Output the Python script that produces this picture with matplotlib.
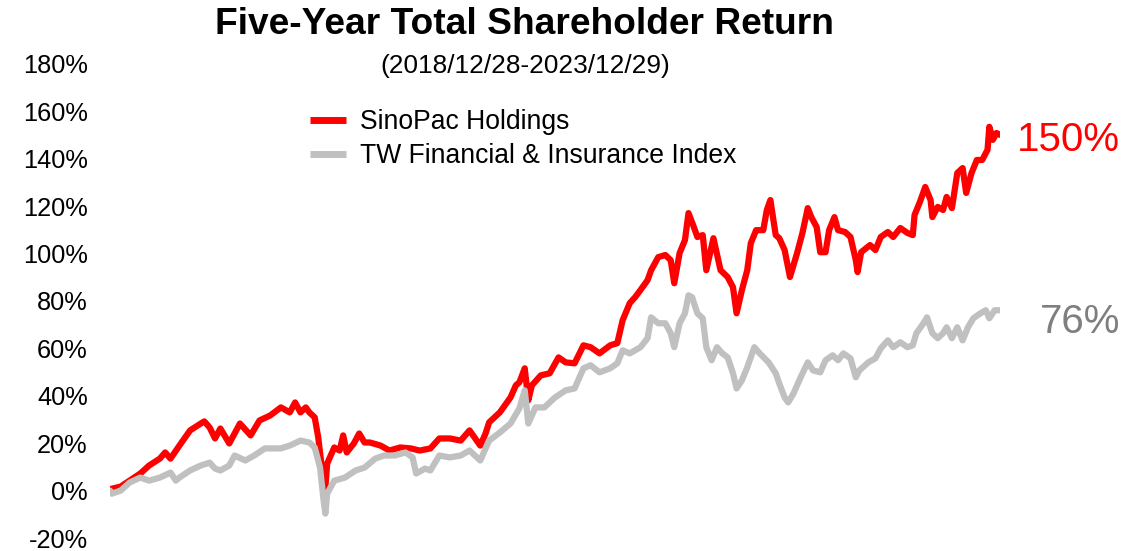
import matplotlib
matplotlib.use("Agg")
import matplotlib.pyplot as plt
from matplotlib.ticker import FuncFormatter

plt.rcParams['font.family'] = ['Liberation Sans', 'DejaVu Sans']

title = "Five-Year Total Shareholder Return"
subtitle = "(2018/12/28-2023/12/29)"
series_names = ["SinoPac Holdings", "TW Financial & Insurance Index"]
end_labels = ["150%", "76%"]

# years since 2018/12/28
sinopac_t = [0.00, 0.01, 0.06, 0.11, 0.17, 0.22, 0.28, 0.31, 0.34, 0.39, 0.45, 0.51, 0.53, 0.56,
             0.59, 0.62, 0.67, 0.73, 0.79, 0.84, 0.90, 0.96, 1.01, 1.04, 1.07, 1.10, 1.12, 1.15,
             1.17, 1.19, 1.21, 1.22, 1.26, 1.29, 1.31, 1.33, 1.37, 1.40, 1.43, 1.46, 1.52, 1.57,
             1.63, 1.69, 1.74, 1.80, 1.85, 1.91, 1.97, 2.02, 2.08, 2.11, 2.13, 2.19, 2.25, 2.28,
             2.30, 2.33, 2.35, 2.37, 2.42, 2.47, 2.52, 2.56, 2.61, 2.66, 2.70, 2.75, 2.81, 2.85,
             2.88, 2.92, 2.95, 2.98, 3.02, 3.04, 3.08, 3.12, 3.15, 3.17, 3.20, 3.23, 3.25, 3.28,
             3.30, 3.33, 3.35, 3.39, 3.43, 3.47, 3.50, 3.52, 3.55, 3.58, 3.60, 3.63, 3.67, 3.69,
             3.71, 3.74, 3.76, 3.79, 3.82, 3.86, 3.89, 3.92, 3.94, 3.97, 3.99, 4.02, 4.04, 4.07,
             4.09, 4.13, 4.16, 4.19, 4.20, 4.22, 4.27, 4.30, 4.33, 4.37, 4.40, 4.44, 4.48, 4.51,
             4.52, 4.55, 4.58, 4.61, 4.62, 4.65, 4.68, 4.70, 4.73, 4.76, 4.79, 4.81, 4.84, 4.87,
             4.90, 4.93, 4.94, 4.96, 4.98, 5.00]
sinopac_v = [0.0, 0.8, 1.7, 4.2, 7.2, 10.6, 13.5, 16.1, 13.5, 19.0, 25.4, 28.3, 29.2, 26.6,
             22.0, 26.2, 19.9, 28.3, 23.3, 29.6, 31.7, 35.1, 33.0, 37.2, 33.0, 35.1, 33.0, 30.9,
             22.4, 9.7, 1.3, 11.4, 18.2, 16.9, 23.3, 16.1, 19.9, 24.1, 20.3, 20.3, 19.0, 16.9,
             18.2, 17.8, 16.9, 17.8, 22.0, 22.0, 21.1, 25.4, 19.0, 24.1, 28.8, 33.0, 39.3, 44.4,
             45.7, 51.6, 38.1, 44.4, 48.6, 49.5, 56.2, 54.1, 53.7, 61.3, 60.5, 57.9, 61.3, 62.2,
             71.9, 79.1, 81.6, 84.6, 88.8, 93.0, 98.5, 99.4, 97.2, 87.5, 100.2, 105.7, 117.1, 111.2,
             107.0, 107.8, 93.0, 106.5, 93.0, 90.1, 85.8, 74.8, 84.6, 93.0, 104.4, 109.9, 109.9, 118.4,
             122.6, 107.8, 106.5, 101.5, 90.1, 100.2, 108.7, 119.2, 115.4, 111.2, 100.6, 100.6, 109.9, 115.4,
             109.9, 109.1, 107.0, 97.2, 92.2, 100.6, 103.6, 101.5, 107.0, 109.1, 107.0, 110.8, 108.7, 107.8,
             116.3, 121.8, 128.1, 122.6, 115.4, 119.7, 118.4, 123.9, 119.2, 134.0, 136.1, 125.6, 134.0, 139.5,
             139.5, 143.8, 153.5, 148.0, 150.9, 150.1]

index_t = [0.00, 0.01, 0.06, 0.11, 0.17, 0.22, 0.28, 0.34, 0.37, 0.39, 0.45, 0.51, 0.56, 0.59,
           0.62, 0.67, 0.70, 0.76, 0.81, 0.87, 0.96, 1.01, 1.07, 1.12, 1.15, 1.18, 1.20, 1.21,
           1.22, 1.26, 1.32, 1.38, 1.43, 1.49, 1.54, 1.60, 1.66, 1.70, 1.72, 1.77, 1.80, 1.85,
           1.91, 1.97, 2.02, 2.08, 2.13, 2.19, 2.25, 2.30, 2.33, 2.35, 2.39, 2.44, 2.50, 2.56,
           2.61, 2.66, 2.70, 2.75, 2.81, 2.85, 2.88, 2.92, 2.98, 3.02, 3.04, 3.08, 3.12, 3.15,
           3.17, 3.20, 3.23, 3.25, 3.27, 3.30, 3.33, 3.35, 3.38, 3.41, 3.44, 3.47, 3.50, 3.52,
           3.55, 3.58, 3.62, 3.65, 3.70, 3.74, 3.76, 3.79, 3.81, 3.84, 3.88, 3.92, 3.95, 3.99,
           4.02, 4.06, 4.09, 4.12, 4.16, 4.19, 4.21, 4.26, 4.30, 4.33, 4.37, 4.40, 4.44, 4.48,
           4.51, 4.53, 4.57, 4.59, 4.62, 4.65, 4.68, 4.70, 4.73, 4.76, 4.79, 4.82, 4.85, 4.89,
           4.92, 4.94, 4.97, 5.00]
index_v = [0.0, -1.3, 0.0, 3.4, 5.5, 4.2, 5.5, 7.6, 4.2, 5.5, 8.5, 10.6, 11.8, 9.3,
           8.5, 10.6, 14.8, 12.7, 14.8, 17.8, 17.8, 19.0, 21.1, 20.3, 18.2, 9.7, -4.2, -9.7,
           -1.3, 4.2, 5.5, 8.5, 9.7, 13.5, 14.8, 14.8, 16.1, 14.0, 7.2, 9.3, 8.5, 14.8,
           14.0, 14.8, 16.9, 12.7, 21.1, 24.5, 28.3, 34.7, 42.3, 28.3, 35.1, 35.1, 39.3, 42.3,
           43.1, 51.6, 52.9, 49.9, 51.6, 53.7, 59.2, 57.9, 60.5, 64.3, 73.1, 70.6, 70.6, 66.4,
           60.5, 70.6, 74.8, 82.4, 81.6, 74.8, 72.7, 60.5, 55.0, 60.5, 57.9, 56.2, 49.5, 43.1,
           46.5, 52.0, 60.5, 57.9, 54.1, 49.5, 45.2, 39.3, 37.2, 41.0, 47.8, 54.1, 50.7, 49.9,
           55.0, 57.1, 55.0, 57.9, 55.8, 47.8, 50.7, 54.1, 55.8, 60.0, 63.4, 60.5, 62.6, 60.5,
           61.3, 66.4, 70.6, 73.1, 66.4, 64.3, 66.4, 68.9, 64.3, 68.9, 63.4, 68.9, 72.7, 74.8,
           76.1, 72.7, 76.1, 76.1]

red = "#FF0000"
grey_line = "#C0C0C0"
grey_text = "#7F7F7F"

fig = plt.figure(figsize=(11.35, 5.51), dpi=100)
ax = fig.add_axes([110/1135, 13/551, 890/1135, 474/551])

ax.plot(sinopac_t, sinopac_v, color=red, lw=4.5, solid_joinstyle='round',
        solid_capstyle='round', zorder=2, label=series_names[0])
ax.plot(index_t, index_v, color=grey_line, lw=4.5, solid_joinstyle='round',
        solid_capstyle='round', zorder=3, label=series_names[1])

ax.set_xlim(0, 5)
ax.set_ylim(-20, 180)
ax.set_yticks(range(-20, 181, 20))
ax.yaxis.set_major_formatter(FuncFormatter(lambda v, p: f"{int(v)}%"))
ax.tick_params(axis='y', length=0, pad=16, labelsize=18.3)
ax.set_xticks([])
for s in ax.spines.values():
    s.set_visible(False)

leg = ax.legend(loc='upper left', bbox_to_anchor=(310/1135, 1 - 109/551),
                bbox_transform=fig.transFigure, frameon=False, fontsize=19.1,
                handlelength=1.35, handletextpad=0.55, labelspacing=0.3,
                borderpad=0, borderaxespad=0)
for h in leg.get_lines():
    h.set_linewidth(5)
    h.set_solid_capstyle('butt')

fig.text(524/1135, 1 - 24/551, title, ha='center', va='center',
         fontsize=26.7, fontweight='bold')
fig.text(525/1135, 1 - 66/551, subtitle, ha='center', va='center', fontsize=18.9)

ax.text(1120/1135, 1 - 140/551, end_labels[0], transform=fig.transFigure,
        ha='right', va='center', fontsize=29, color=red)
ax.text(1120/1135, 1 - 322/551, end_labels[1], transform=fig.transFigure,
        ha='right', va='center', fontsize=29, color=grey_text)

fig.savefig("out.png", dpi=100)
